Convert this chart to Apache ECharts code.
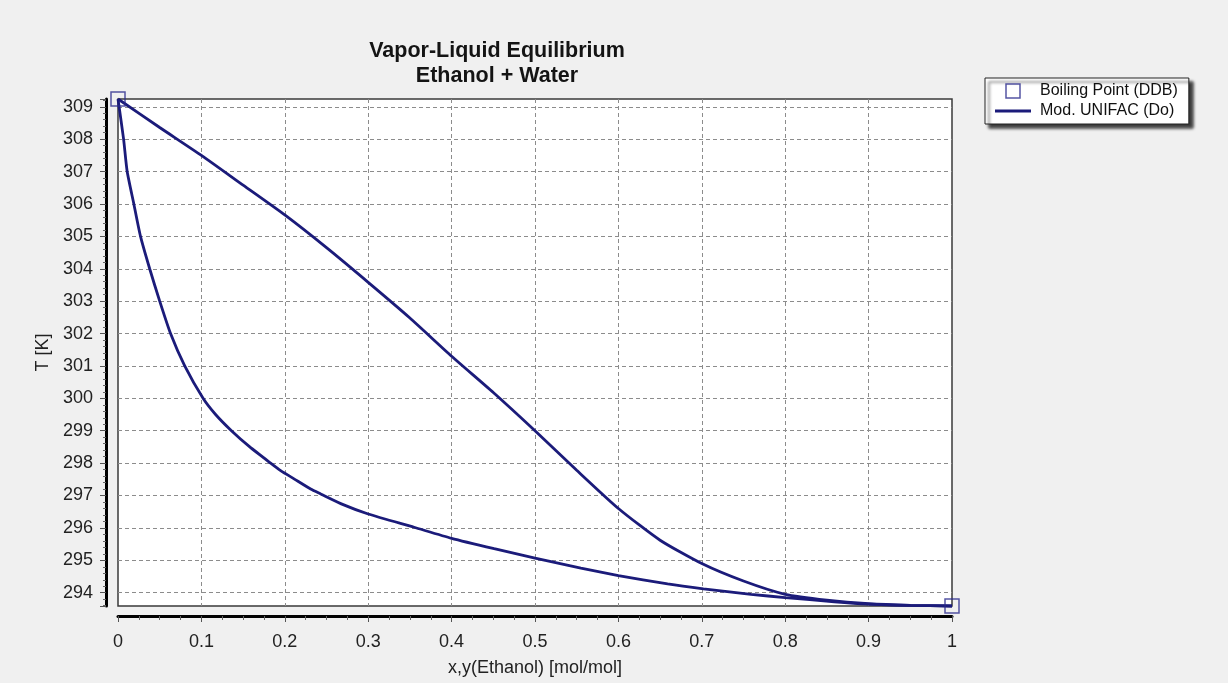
<!DOCTYPE html>
<html>
<head>
<meta charset="utf-8">
<script src="https://cdn.jsdelivr.net/npm/echarts@6/dist/echarts.min.js"></script>
<style>
html,body{margin:0;padding:0;background:#f0f0f0;}
#c{width:1228px;height:683px;}
</style>
</head>
<body>
<div id="c"></div>
<script>
// Boiling points from the data bank (DDB)
const boilX = [0, 1];
const boilT = [309.24, 293.59];

// Mod. UNIFAC (Do) bubble-point curve: liquid mole fraction x vs T
const bubbleX = [0, 0.0067, 0.011, 0.019, 0.027, 0.038, 0.050, 0.063, 0.080, 0.102, 0.117, 0.136, 0.158, 0.183, 0.195, 0.212, 0.231, 0.243, 0.27, 0.30, 0.355, 0.40, 0.451, 0.50, 0.555, 0.60, 0.659, 0.702, 0.759, 0.80, 0.859, 0.90, 0.95, 1.0];
const bubbleT = [309.24, 308.0, 307.0, 306.0, 305.0, 304.0, 303.0, 302.0, 301.0, 300.0, 299.5, 299.0, 298.5, 298.0, 297.77, 297.5, 297.2, 297.05, 296.72, 296.43, 296.02, 295.68, 295.36, 295.07, 294.76, 294.53, 294.27, 294.12, 293.95, 293.85, 293.72, 293.65, 293.61, 293.59];

// Mod. UNIFAC (Do) dew-point curve: vapour mole fraction y vs T
const dewY = [0, 0.05, 0.1, 0.15, 0.2, 0.25, 0.3, 0.35, 0.4, 0.45, 0.5, 0.55, 0.6, 0.65, 0.7, 0.75, 0.8, 0.85, 0.9, 0.95, 1.0];
const dewT = [309.24, 308.36, 307.5, 306.58, 305.66, 304.65, 303.58, 302.48, 301.3, 300.18, 299.0, 297.78, 296.6, 295.62, 294.9, 294.36, 293.95, 293.77, 293.66, 293.61, 293.59];

const titleLines = ['Vapor-Liquid Equilibrium', 'Ethanol + Water'];
const xName = 'x,y(Ethanol) [mol/mol]';
const yName = 'T [K]';
const nameBoil = 'Boiling Point (DDB)';
const nameModel = 'Mod. UNIFAC (Do)';

const zip = (a, b) => a.map((v, i) => [v, b[i]]);
const NAVY = '#1b1b7a';
const SQUARE = '#2a2a8c';
const FONT = "'Liberation Sans', Arial, sans-serif";

const chart = echarts.init(document.getElementById('c'), null, {renderer: 'canvas'});
const dash = {type: [4, 3], color: '#8c8c8c', width: 1};

chart.setOption({
  backgroundColor: '#f0f0f0',
  animation: false,
  textStyle: {fontFamily: FONT},
  title: {
    text: titleLines.join('\n'),
    left: 492, top: 34, textAlign: 'center',
    textStyle: {fontSize: 21.5, fontWeight: 'bold', lineHeight: 25, color: '#141414', fontFamily: FONT}
  },
  legend: {
    orient: 'vertical', left: 985, top: 78,
    padding: [5, 11, 5, 10], itemGap: 4,
    itemWidth: 36, itemHeight: 14, symbolKeepAspect: true,
    backgroundColor: '#ffffff', borderColor: '#222', borderWidth: 1, borderRadius: 0,
    shadowColor: 'rgba(0,0,0,0.75)', shadowOffsetX: 4, shadowOffsetY: 4, shadowBlur: 3,
    textStyle: {fontSize: 16, color: '#111', fontFamily: FONT, padding: [0, 0, 0, 4]},
    data: [
      {name: nameBoil, icon: 'path://M0,0H10V10H0Z',
       itemStyle: {color: 'rgba(0,0,0,0)', borderColor: SQUARE, borderWidth: 1.5}},
      {name: nameModel, icon: 'path://M0,0H36V3H0Z',
       itemStyle: {color: NAVY, borderWidth: 0}}
    ]
  },
  grid: {
    left: 118, top: 99, width: 834, height: 507,
    show: true, backgroundColor: '#ffffff', borderColor: '#3a3a3a', borderWidth: 1.5,
    outerBoundsMode: 'none'
  },
  xAxis: {
    type: 'value', min: 0, max: 1, interval: 0.1, offset: 10,
    name: xName, nameLocation: 'middle', nameGap: 43,
    nameTextStyle: {fontSize: 18, color: '#222', fontFamily: FONT},
    axisLine: {show: true, onZero: false, lineStyle: {color: '#000', width: 3}},
    axisTick: {show: true, length: 6, lineStyle: {color: '#555', width: 1}},
    minorTick: {show: true, splitNumber: 4, length: 4, lineStyle: {color: '#666', width: 1}},
    axisLabel: {fontSize: 18, margin: 17, color: '#222', fontFamily: FONT},
    splitLine: {show: true, showMinLine: false, showMaxLine: false, lineStyle: dash}
  },
  yAxis: {
    type: 'value', min: 293.59, max: 309.24, minInterval: 1, maxInterval: 1, offset: 12,
    name: yName, nameLocation: 'middle', nameGap: 48,
    nameTextStyle: {fontSize: 18, color: '#222', fontFamily: FONT},
    axisLine: {show: true, onZero: false, lineStyle: {color: '#000', width: 3}},
    axisTick: {show: true, length: 6, lineStyle: {color: '#555', width: 1}},
    minorTick: {show: true, splitNumber: 5, length: 3, lineStyle: {color: '#666', width: 1}},
    axisLabel: {
      fontSize: 18, margin: 13, color: '#222', fontFamily: FONT,
      showMinLabel: false, showMaxLabel: false,
      formatter: v => Math.abs(v - Math.round(v)) < 1e-6 ? String(Math.round(v)) : ''
    },
    splitLine: {show: true, showMinLine: false, showMaxLine: false, lineStyle: dash}
  },
  series: [
    {
      name: nameModel, type: 'line', data: zip(bubbleX, bubbleT),
      symbol: 'none', showSymbol: false, smooth: 0.2, clip: false,
      lineStyle: {color: NAVY, width: 2.8}, itemStyle: {color: NAVY}, z: 3
    },
    {
      name: nameModel, type: 'line', data: zip(dewY, dewT),
      symbol: 'none', showSymbol: false, smooth: 0.2, clip: false,
      lineStyle: {color: NAVY, width: 2.8}, itemStyle: {color: NAVY}, z: 3
    },
    {
      name: nameBoil, type: 'scatter', data: zip(boilX, boilT),
      symbol: 'rect', symbolSize: 14, clip: false,
      itemStyle: {color: 'rgba(0,0,0,0)', borderColor: SQUARE, borderWidth: 1.5}, z: 5
    }
  ]
});
</script>
</body>
</html>
